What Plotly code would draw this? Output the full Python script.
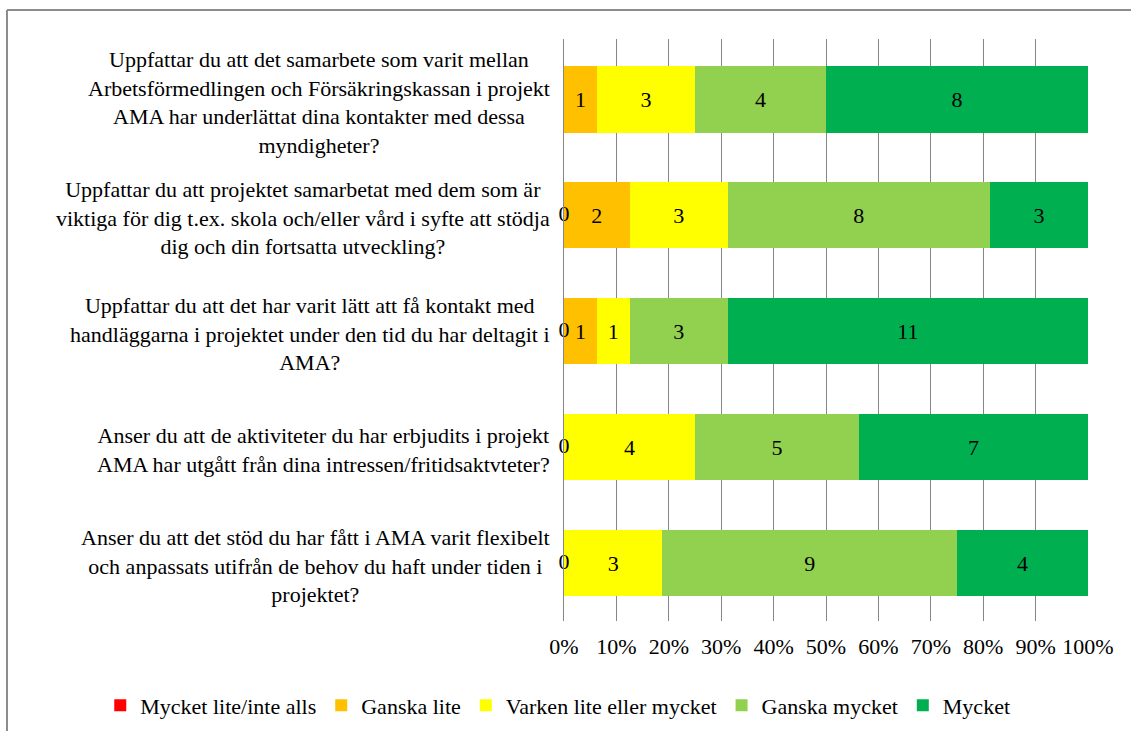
import plotly.graph_objects as go

categories = [
    "Uppfattar du att det samarbete som varit mellan<br>Arbetsförmedlingen och Försäkringskassan i projekt<br>AMA har underlättat dina kontakter med dessa<br>myndigheter?",
    "Uppfattar du att projektet samarbetat med dem som är<br>viktiga för dig t.ex. skola och/eller vård i syfte att stödja<br>dig och din fortsatta utveckling?",
    "Uppfattar du att det har varit lätt att få kontakt med<br>handläggarna i projektet under den tid du har deltagit i<br>AMA?",
    "Anser du att de aktiviteter du har erbjudits i projekt<br>AMA har utgått från dina intressen/fritidsaktvteter?",
    "Anser du att det stöd du har fått i AMA varit flexibelt<br>och anpassats utifrån de behov du haft under tiden i<br>projektet?",
]
cat_ids = ["Q1", "Q2", "Q3", "Q4", "Q5"]

series_names = ["Mycket lite/inte alls", "Ganska lite", "Varken lite eller mycket", "Ganska mycket", "Mycket"]
mycket_lite = [None, 0, 0, 0, 0]
ganska_lite = [1, 2, 1, None, None]
varken = [3, 3, 1, 4, 3]
ganska_mycket = [4, 8, 3, 5, 9]
mycket = [8, 3, 11, 7, 4]
colors = ["#FF0000", "#FFC000", "#FFFF00", "#92D050", "#00B050"]

tick_vals = [0, 10, 20, 30, 40, 50, 60, 70, 80, 90, 100]
tick_text = ["0%", "10%", "20%", "30%", "40%", "50%", "60%", "70%", "80%", "90%", "100%"]

FONT = "Liberation Serif"
GRID = "#868686"
FS = 22

fig = go.Figure()
all_series = [mycket_lite, ganska_lite, varken, ganska_mycket, mycket]
for name, vals, col in zip(series_names, all_series, colors):
    fig.add_trace(go.Bar(
        y=cat_ids, x=vals, name=name, orientation="h",
        marker=dict(color=col, line=dict(width=0)),
        text=[("" if v is None else str(v)) for v in vals],
        textposition="inside", insidetextanchor="middle", textangle=0,
        textfont=dict(family=FONT, size=FS, color="black"),
        constraintext="none",
        hoverinfo="skip",
    ))

# zero-value labels drawn at the 0% position
zero_y = [c for c, v in zip(cat_ids, mycket_lite) if v == 0]
fig.add_trace(go.Scatter(
    y=zero_y, x=[0] * len(zero_y), mode="text", text=["0"] * len(zero_y),
    textposition="middle center", textfont=dict(family=FONT, size=FS, color="black"),
    showlegend=False, hoverinfo="skip", cliponaxis=False,
))

for cid, label in zip(cat_ids, categories):
    fig.add_annotation(
        x=0, xref="paper", y=cid, yref="y", xanchor="right", yanchor="middle",
        xshift=-12, yshift=-3, text=label, align="center", showarrow=False,
        font=dict(family=FONT, size=FS, color="black"),
    )

# chart frame (top and left edges visible)
fig.add_shape(type="line", xref="paper", yref="paper", x0=-1.063, x1=1.2, y0=1.0498, y1=1.0498,
              line=dict(color="#8c8c8c", width=2))
fig.add_shape(type="line", xref="paper", yref="paper", x0=-1.063, x1=-1.063, y0=1.0498, y1=-0.3,
              line=dict(color="#8c8c8c", width=2))

fig.update_layout(
    width=1131, height=731,
    barmode="stack", barnorm="percent", bargap=0.43,
    plot_bgcolor="white", paper_bgcolor="white",
    margin=dict(l=564, r=43, t=39, b=110, autoexpand=False),
    font=dict(family=FONT, size=FS, color="black"),
    xaxis=dict(range=[0, 100], tickvals=tick_vals, ticktext=tick_text,
               showgrid=True, gridcolor=GRID, gridwidth=1, zeroline=False,
               showline=False, ticks="", ticklabelstandoff=10,
               tickfont=dict(family=FONT, size=FS, color="black")),
    yaxis=dict(autorange="reversed", showticklabels=False, showgrid=False,
               showline=True, linecolor=GRID, linewidth=1, ticks=""),
    legend=dict(orientation="h", xref="paper", yref="paper", x=-0.885, y=-0.145,
                xanchor="left", yanchor="middle", traceorder="normal",
                font=dict(family=FONT, size=FS, color="black"), itemwidth=30),
    showlegend=True,
)

fig.write_html("out.html", config={"displayModeBar": False},
               post_script="document.body.style.margin='0';document.body.style.overflow='hidden';")
